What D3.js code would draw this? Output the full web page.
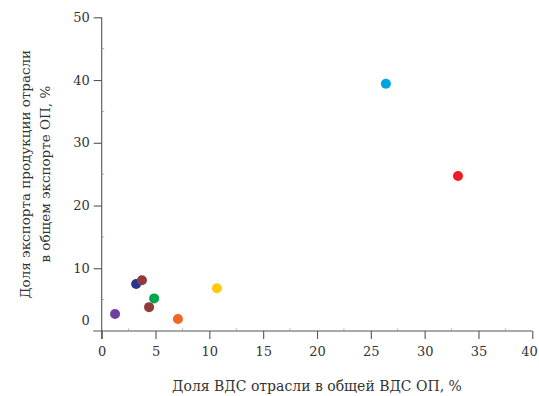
<!DOCTYPE html>
<html><head><meta charset="utf-8">
<script src="https://cdn.jsdelivr.net/npm/d3@7"></script>
<style>
html,body{margin:0;padding:0;background:#fff;}
svg{display:block;}
text{font-family:"DejaVu Serif","Liberation Serif",serif;fill:#333;}
</style></head>
<body>
<svg id="chart" width="539" height="396"></svg>
<script>
const shareGVA = [1.24, 3.2, 3.74, 4.4, 4.87, 7.08, 10.7, 26.4, 33.1];
const shareExport = [2.7, 7.5, 8.1, 3.8, 5.2, 1.9, 6.8, 39.4, 24.7];
const dotColors = ["#6e3f9c", "#2a3491", "#8e3b39", "#8e3b39", "#00a54f", "#f26522", "#ffc90e", "#00a3e0", "#ed1c24"];
const xTicks = [0, 5, 10, 15, 20, 25, 30, 35, 40];
const yTicks = [0, 10, 20, 30, 40, 50];
const xTitle = "Доля ВДС отрасли в общей ВДС ОП, %";
const yTitle = ["Доля экспорта продукции отрасли", "в общем экспорте ОП, %"];

const W = 539, H = 396;
const m = {left: 101.7, right: 6.7, top: 17.3, bottom: 65};
const svg = d3.select("#chart");
const x = d3.scaleLinear().domain([0, 40]).range([m.left, W - m.right]);
const y = d3.scaleLinear().domain([0, 50]).range([H - m.bottom, m.top]);
const axisColor = "#555";

const gx = svg.append("g").attr("transform", `translate(0,${y(0)})`)
  .call(d3.axisBottom(x).tickValues(xTicks).tickSize(8).tickSizeOuter(0).tickPadding(8).tickFormat(d3.format("d")));
gx.select(".domain").attr("d", `M${m.left - 8.5},0H${x(40)}`);
const gy = svg.append("g").attr("transform", `translate(${x(0)},0)`)
  .call(d3.axisLeft(y).tickValues(yTicks).tickSize(8).tickSizeOuter(0).tickPadding(4).tickFormat(d3.format("d")));
gy.select(".domain").attr("d", `M0,${y(50)}V${y(0) + 8}`);
[gx, gy].forEach(g => {
  g.selectAll(".domain").attr("stroke", axisColor).attr("stroke-width", 1.1);
  g.selectAll(".tick line").attr("stroke", axisColor).attr("stroke-width", 1.1);
  g.selectAll(".tick text").style("font-family", '"DejaVu Serif",serif').style("font-size", "13px").attr("fill", "#333");
});
gy.selectAll(".tick").filter(d => d === 0).select("line").remove();
gy.selectAll(".tick").filter(d => d === 0).select("text").attr("dy", "-0.5em");
gx.selectAll(".tick").filter(d => d === 40).select("text").attr("text-anchor", "end").attr("x", 5);

// minor ticks
const xMinor = xTicks.slice(0, -1).map((d, i) => (d + xTicks[i + 1]) / 2);
const yMinor = yTicks.slice(0, -1).map((d, i) => (d + yTicks[i + 1]) / 2);
svg.append("g").selectAll("line").data(xMinor).join("line")
  .attr("x1", d => x(d)).attr("x2", d => x(d)).attr("y1", y(0)).attr("y2", y(0) - 2.5)
  .attr("stroke", "#999").attr("stroke-width", 0.8);
svg.append("g").selectAll("line").data(yMinor).join("line")
  .attr("y1", d => y(d)).attr("y2", d => y(d)).attr("x1", x(0)).attr("x2", x(0) + 2.5)
  .attr("stroke", "#999").attr("stroke-width", 0.8);

// dots
svg.append("g").selectAll("circle").data(shareGVA.map((v, i) => ({x: v, y: shareExport[i], c: dotColors[i]})))
  .join("circle")
  .attr("cx", d => x(d.x)).attr("cy", d => y(d.y)).attr("r", 5)
  .attr("fill", d => d.c);

// titles
svg.append("text").attr("x", (x(0) + x(40)) / 2).attr("y", 391)
  .attr("text-anchor", "middle").style("font-size", "14px").text(xTitle);
const yt = svg.append("text").attr("transform", `translate(0,${(y(0) + y(50)) / 2}) rotate(-90)`)
  .attr("text-anchor", "middle").style("font-size", "13.5px");
yt.append("tspan").attr("x", 0).attr("y", 30).text(yTitle[0]);
yt.append("tspan").attr("x", 0).attr("y", 50).text(yTitle[1]);
</script>
</body></html>
